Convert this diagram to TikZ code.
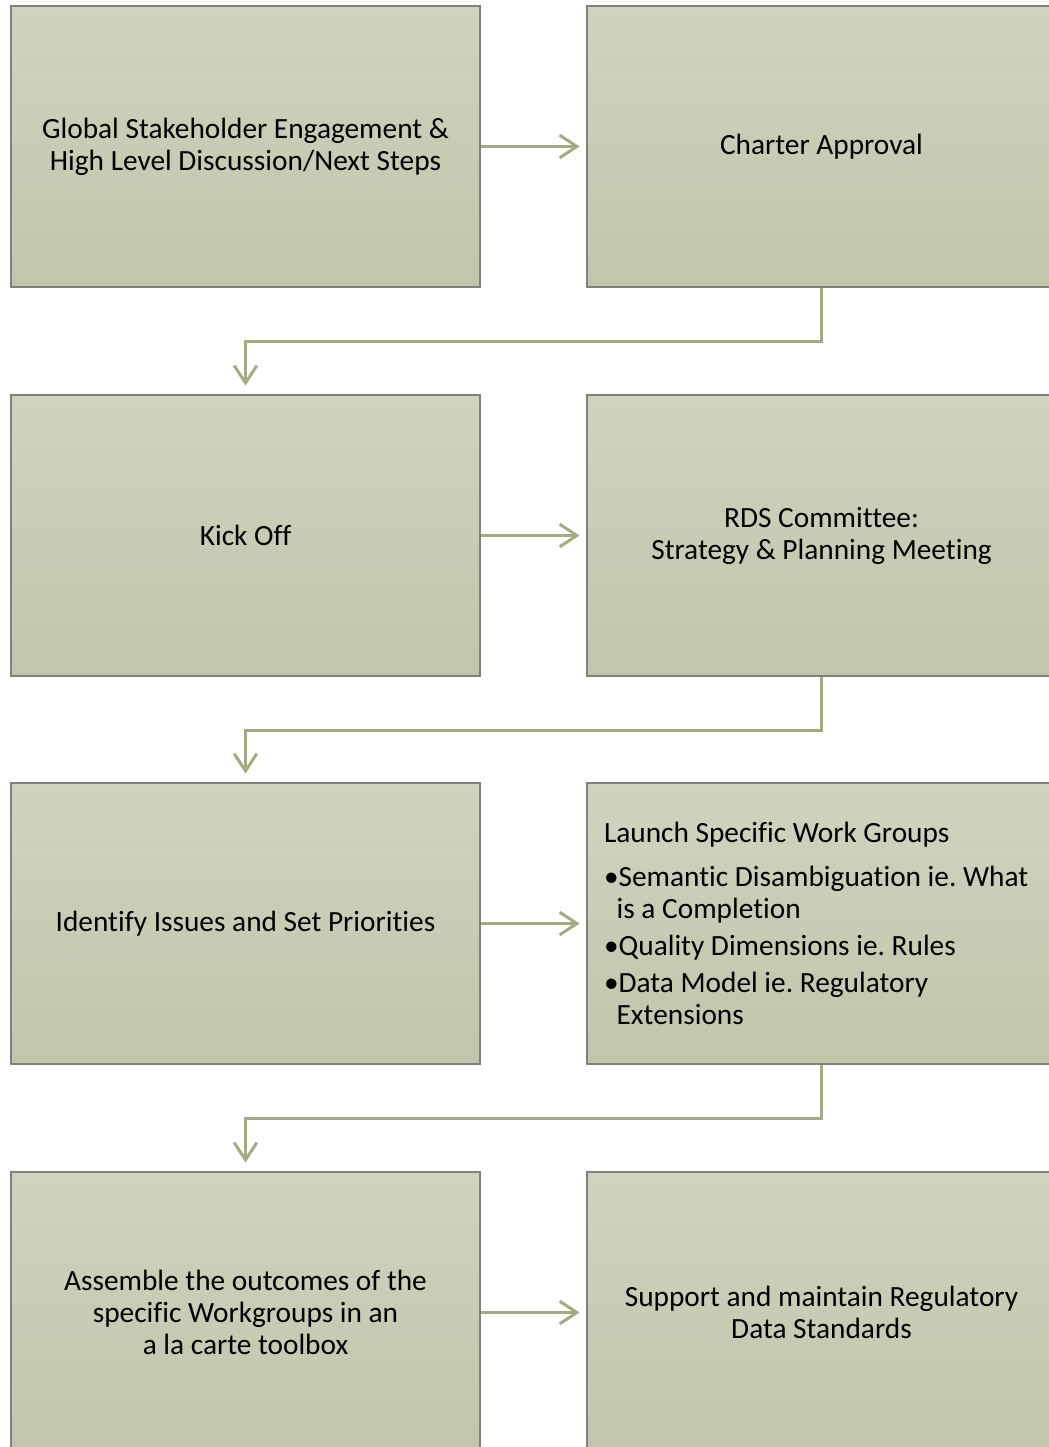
\documentclass[tikz,border=0pt]{standalone}
\usepackage{fontspec}
\setmainfont{Carlito}[Ligatures={NoCommon}]
\usetikzlibrary{arrows.meta}
\frenchspacing
\definecolor{boxtop}{RGB}{209,211,191}
\definecolor{boxbot}{RGB}{193,197,169}
\definecolor{boxline}{RGB}{128,128,128}
\definecolor{arr}{RGB}{165,170,128}
\tikzset{
  box/.style={draw=boxline, line width=1.1pt, top color=boxtop, bottom color=boxbot,
    minimum width=351.75pt, minimum height=210.75pt, inner sep=0pt,
    align=center, font=\fontsize{22}{24}\selectfont, text=black},
  flow/.style={draw=arr, line width=2.2pt, -{Straight Barb[length=13pt,width=17pt]}},
}
\begin{document}
\begin{tikzpicture}[x=0.75pt,y=-0.75pt]
\useasboundingbox (0,0) rectangle (1049,1447);
\clip (0,0) rectangle (1049,1447);
\fill[white] (0,0) rectangle (1049,1447);
% row 1
\node[box] (a) at (245.5,146.5) {Global Stakeholder Engagement \&\\High Level Discussion/Next Steps};
\node[box] (b) at (821.5,146.5) {Charter Approval};
% row 2
\node[box] (c) at (245.5,535.5) {Kick Off};
\node[box] (d) at (821.5,535.5) {RDS Committee:\\Strategy \& Planning Meeting};
% row 3
\node[box] (e) at (245.5,923.5) {Identify Issues and Set Priorities};
\node[box] (f) at (821.5,923.5) {\parbox{326.25pt}{\raggedright Launch Specific Work Groups\\[9pt]
•Semantic Disambiguation ie. What\\
\hspace*{9.5pt}is a Completion\\[3.5pt]
•Quality Dimensions ie. Rules\\[3.5pt]
•Data Model ie. Regulatory\\
\hspace*{9.5pt}Extensions}};
% row 4
\node[box] (g) at (245.5,1312.5) {Assemble the outcomes of the\\specific Workgroups in an\\a la carte toolbox};
\node[box] (h) at (821.5,1312.5) {Support and maintain Regulatory\\Data Standards};
% connectors
\draw[flow, shorten >=5pt] (a.east) -- (b.west);
\draw[flow, shorten >=5pt] (c.east) -- (d.west);
\draw[flow, shorten >=5pt] (e.east) -- (f.west);
\draw[flow, shorten >=5pt] (g.east) -- (h.west);
\draw[flow, shorten >=6.5pt] (b.south) -- ++(0,54) -| (c.north);
\draw[flow, shorten >=6.5pt] (d.south) -- ++(0,54) -| (e.north);
\draw[flow, shorten >=6.5pt] (f.south) -- ++(0,54) -| (g.north);
\end{tikzpicture}
\end{document}
